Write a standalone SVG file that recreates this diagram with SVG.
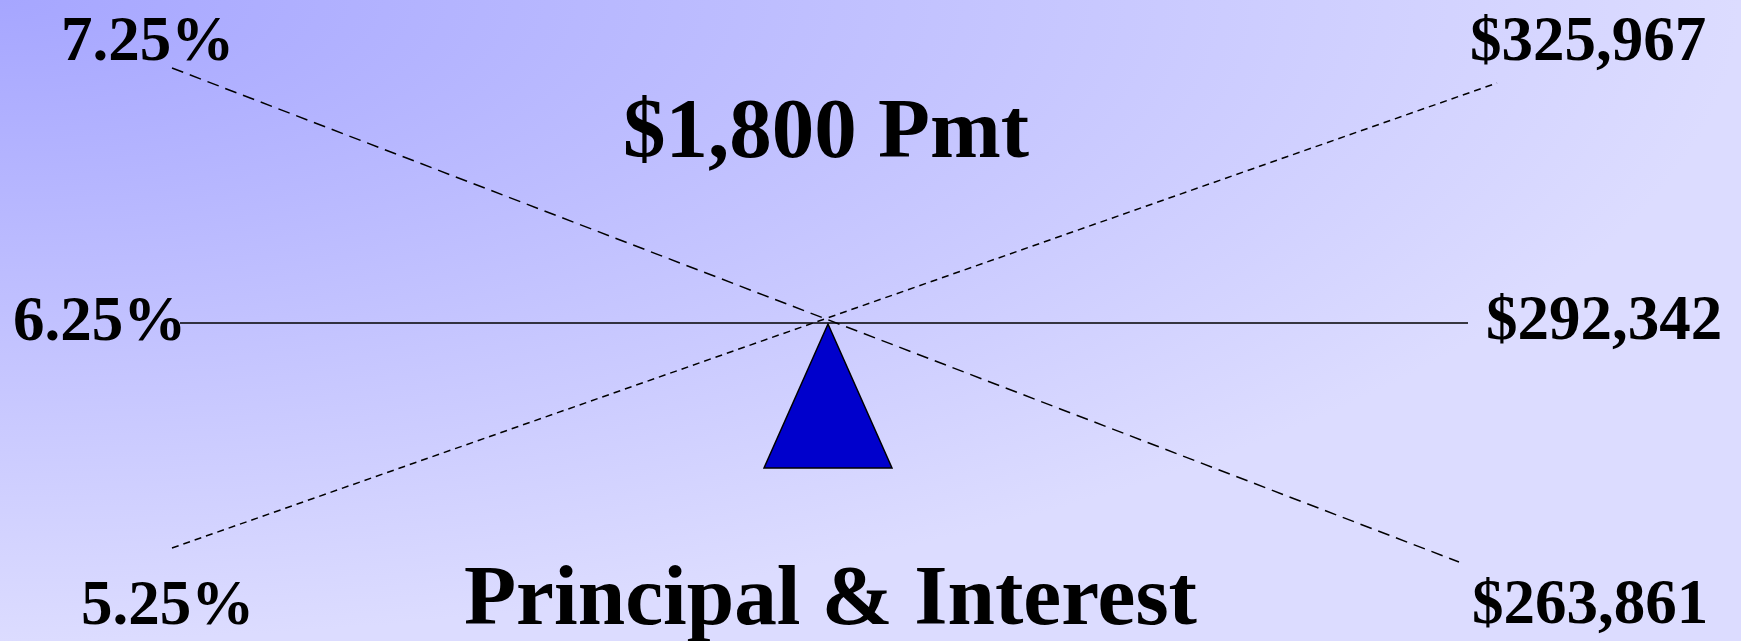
<svg xmlns="http://www.w3.org/2000/svg" width="1741" height="641" viewBox="0 0 1741 641">
  <defs>
    <radialGradient id="bg" cx="0" cy="0" r="1" fx="0" fy="0" gradientUnits="objectBoundingBox">
      <stop offset="0" stop-color="#a6a6ff"/>
      <stop offset="1" stop-color="#dcdcff"/>
    </radialGradient>
  </defs>
  <style>
    .lbl { font-family: "Liberation Serif", "Times New Roman", serif; font-weight: bold; fill: #000; font-size: 63px; }
    .big { font-size: 85px; }
    .ln { stroke: #000; stroke-width: 1.5; fill: none; }
  </style>
  <rect x="0" y="0" width="1741" height="641" fill="url(#bg)"/>
  <g id="connectors">
    <line class="ln" x1="172" y1="68" x2="1459" y2="562" stroke-dasharray="12 7"/>
    <line class="ln" x1="172" y1="548" x2="1497" y2="83" stroke-dasharray="7 5"/>
    <line class="ln" x1="180" y1="323" x2="1468" y2="323"/>
  </g>
  <g id="fulcrum">
    <polygon points="828,324 764,468 892,468" fill="#0000cc" stroke="#000" stroke-width="1.5" stroke-linejoin="miter"/>
  </g>
  <g id="title">
    <text class="lbl big" x="623" y="157">$1,800 Pmt</text>
  </g>
  <g id="subtitle">
    <text class="lbl big" x="464" y="624" textLength="733" lengthAdjust="spacingAndGlyphs">Principal &amp; Interest</text>
  </g>
  <g id="rate-high"><text class="lbl" x="61" y="60">7.25%</text></g>
  <g id="rate-mid"><text class="lbl" x="13" y="340">6.25%</text></g>
  <g id="rate-low"><text class="lbl" x="81" y="624">5.25%</text></g>
  <g id="amt-high"><text class="lbl" x="1470" y="60">$325,967</text></g>
  <g id="amt-mid"><text class="lbl" x="1486" y="339">$292,342</text></g>
  <g id="amt-low"><text class="lbl" x="1472" y="623">$263,861</text></g>
</svg>
